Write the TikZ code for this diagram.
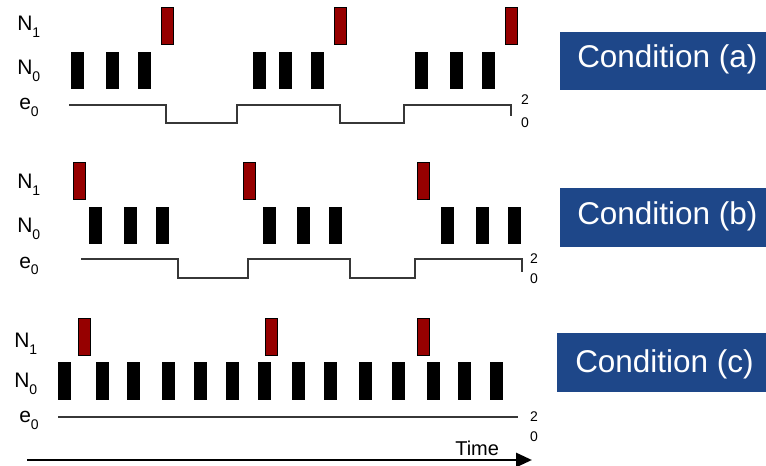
\documentclass[tikz,border=0pt]{standalone}
\usepackage{fontspec}
\setmainfont{Liberation Sans}
\usetikzlibrary{arrows.meta}

\definecolor{pulsered}{RGB}{150,0,0}
\definecolor{condblue}{RGB}{30,71,137}
\definecolor{tracegray}{RGB}{55,55,55}

% signal name with a lowered index, e.g. N_1
\newcommand\signame[2]{#1\raisebox{-5.25pt}{\fontsize{10.5pt}{10.5pt}\selectfont #2}}

\begin{document}
\begin{tikzpicture}[x=0.75pt,y=-0.75pt,
  nzero/.style={fill=black},
  none/.style={fill=pulsered,draw=black,line width=0.4pt},
  trace/.style={draw=tracegray,line width=1.1pt},
  siglabel/.style={anchor=base west,inner sep=0pt,font=\fontsize{15.75pt}{16pt}\selectfont},
  levellabel/.style={inner sep=0pt,font=\fontsize{10.5pt}{11pt}\selectfont},
  condtext/.style={anchor=base west,inner sep=0pt,text=white,font=\fontsize{23.6pt}{24pt}\selectfont},
  timelabel/.style={anchor=base west,inner sep=0pt,font=\fontsize{15pt}{16pt}\selectfont}]

\useasboundingbox (0,0) rectangle (766,466);
\clip (0,0) rectangle (766,466);

% ---------- condition (a) ----------
\node[siglabel] (a-n1) at (17,31) {\signame{N}{1}};
\node[siglabel] (a-n0) at (17,75) {\signame{N}{0}};
\node[siglabel] (a-e0) at (19,110) {\signame{e}{0}};
\foreach \x in {161,334,505} \path[none] (\x,7) rectangle ++(12,37);
\foreach \x in {71,106,138,253,279,311,415,450,482} \path[nzero] (\x,52) rectangle ++(13,37);
\draw[trace] (69,105) -- (166,105) -- (166,123) -- (237,123) -- (237,105) -- (340,105)
  -- (340,123) -- (404,123) -- (404,105) -- (511,105) -- (511,116);
\node[levellabel] (a-hi) at (525,100) {2};
\node[levellabel] (a-lo) at (525,123) {0};
\fill[condblue] (560,32) rectangle (780,90);
\node[condtext] (a-cond) at (577,68) {Condition (a)};

% ---------- condition (b) ----------
\node[siglabel] (b-n1) at (17,189) {\signame{N}{1}};
\node[siglabel] (b-n0) at (17,233) {\signame{N}{0}};
\node[siglabel] (b-e0) at (19,268) {\signame{e}{0}};
\foreach \x in {73,243,417} \path[none] (\x,162) rectangle ++(12,37);
\foreach \x in {89,124,156,263,297,329,441,476,508} \path[nzero] (\x,207) rectangle ++(13,37);
\draw[trace] (81,259) -- (178,259) -- (178,278) -- (248,278) -- (248,259) -- (350,259)
  -- (350,278) -- (415,278) -- (415,259) -- (522,259) -- (522,272);
\node[levellabel] (b-hi) at (534,259) {2};
\node[levellabel] (b-lo) at (534,279) {0};
\fill[condblue] (560,188) rectangle (780,247);
\node[condtext] (b-cond) at (577,225) {Condition (b)};

% ---------- condition (c) ----------
\node[siglabel] (c-n1) at (14,347) {\signame{N}{1}};
\node[siglabel] (c-n0) at (14,387) {\signame{N}{0}};
\node[siglabel] (c-e0) at (19,422) {\signame{e}{0}};
\foreach \x in {78,265,417} \path[none] (\x,318) rectangle ++(12,37);
\foreach \x in {58,96,127,162,194,226,258,292,324,359,392,427,458,490}
  \path[nzero] (\x,362) rectangle ++(13,38);
\draw[trace] (58,417) -- (518,417);
\node[levellabel] (c-hi) at (534,417) {2};
\node[levellabel] (c-lo) at (534,437) {0};
\fill[condblue] (557,333) rectangle (780,392);
\node[condtext] (c-cond) at (575,372) {Condition (c)};

% ---------- time axis ----------
\coordinate (t-start) at (27,460);
\coordinate (t-end) at (532,460);
\draw[line width=2.2pt,-{Triangle[length=12pt,width=10.5pt]}] (t-start) -- (t-end);
\node[timelabel] (t-label) at (455,455) {Time};

\end{tikzpicture}
\end{document}
